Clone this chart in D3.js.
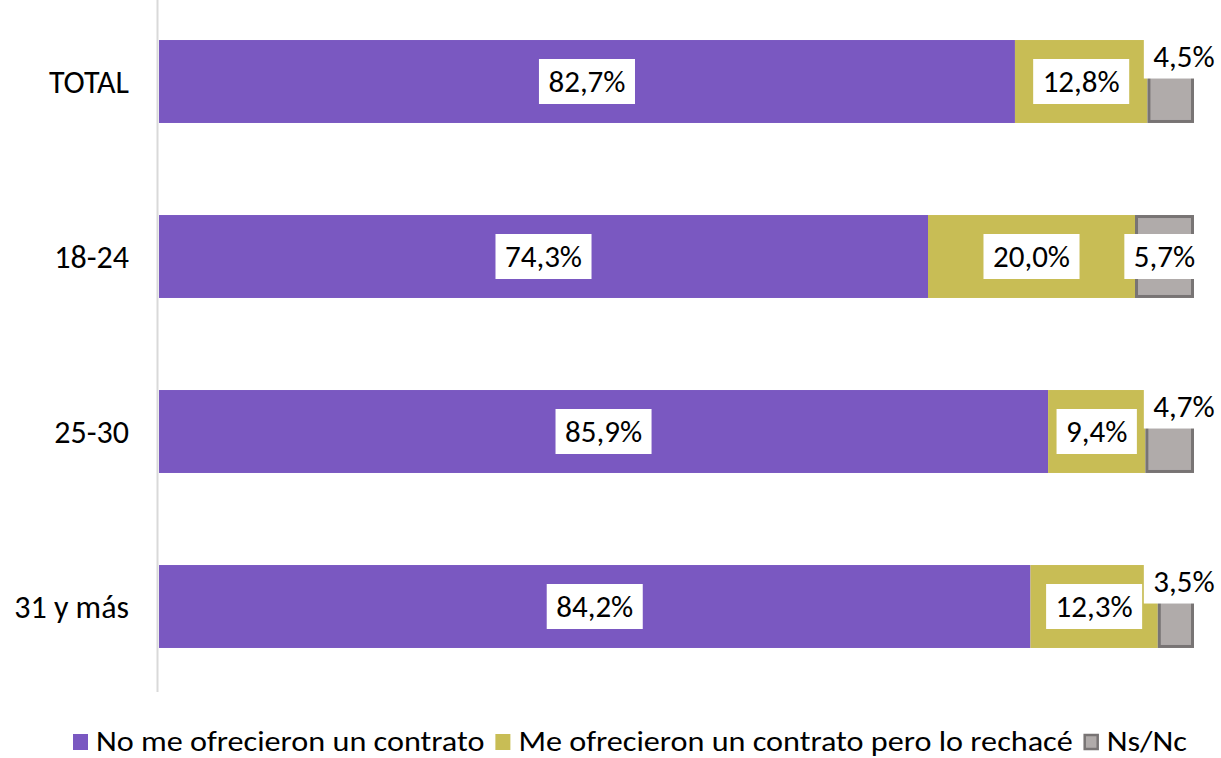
<!DOCTYPE html>
<html>
<head>
<meta charset="utf-8">
<script src="https://cdn.jsdelivr.net/npm/d3@7"></script>
<style>
  body { margin: 0; background: #fff; }
  svg { font-family: Carlito, Calibri, Lato, sans-serif; }
</style>
</head>
<body>
<svg id="chart" width="1221" height="758"></svg>
<script>
// chart data
var categories = ["TOTAL", "18-24", "25-30", "31 y más"];
var seriesNames = ["No me ofrecieron un contrato", "Me ofrecieron un contrato pero lo rechacé", "Ns/Nc"];
var noContrato = [82.7, 74.3, 85.9, 84.2];
var rechazado = [12.8, 20.0, 9.4, 12.3];
var nsnc = [4.5, 5.7, 4.7, 3.5];
var colors = ["#7a58c1", "#c8bd55", "#b0abaa"];

var svg = d3.select("#chart");
var x = d3.scaleLinear().domain([0, 100]).range([159, 1194]);
var y = d3.scaleBand()
    .domain(categories)
    .range([-6, 694])
    .paddingInner(0.526)
    .paddingOuter(0.263);

// vertical axis line
svg.append("line")
    .attr("x1", 157.5).attr("x2", 157.5)
    .attr("y1", 0).attr("y2", 692)
    .attr("stroke", "#d9d9d9")
    .attr("stroke-width", 2);

var rows = categories.map(function (c, i) {
    return { cat: c, vals: [noContrato[i], rechazado[i], nsnc[i]] };
});

var g = svg.append("g");
rows.forEach(function (r) {
    var start = 0;
    r.vals.forEach(function (v, k) {
        var x0 = x(start), x1 = x(start + v);
        var rect = g.append("rect")
            .attr("y", y(r.cat))
            .attr("height", y.bandwidth())
            .attr("fill", colors[k]);
        if (k == 2) {
            rect.attr("x", x0 + 1.5).attr("width", x1 - x0 - 3)
                .attr("y", y(r.cat) + 1.5).attr("height", y.bandwidth() - 3)
                .attr("stroke", "#787474").attr("stroke-width", 3);
        } else {
            rect.attr("x", x0).attr("width", x1 - x0);
        }
        r["x" + k] = [x0, x1];
        start += v;
    });
});

// data labels with white boxes
function label(txt, cx, cy) {
    var lg = svg.append("g");
    var box = lg.append("rect").attr("fill", "#fff");
    var t = lg.append("text")
        .attr("x", cx).attr("y", cy)
        .attr("text-anchor", "middle")
        .attr("dy", "0.35em")
        .attr("font-size", 31)
        .attr("fill", "#000")
        .text(txt);
    var w = t.node().getComputedTextLength() + 19;
    box.attr("x", cx - w / 2).attr("y", cy - 22.5).attr("width", w).attr("height", 45);
}
var fmt = function (v) { return v.toFixed(1).replace(".", ",") + "%"; };

rows.forEach(function (r) {
    var cy = y(r.cat) + y.bandwidth() / 2;
    label(fmt(r.vals[0]), (r.x0[0] + r.x0[1]) / 2, cy);
    label(fmt(r.vals[1]), (r.x1[0] + r.x1[1]) / 2, cy);
    if (r.vals[2] >= 5) {
        label(fmt(r.vals[2]), (r.x2[0] + r.x2[1]) / 2, cy);
    } else {
        // small segment: label pushed up and right of the bar end
        label(fmt(r.vals[2]), x.range()[1] - 10, y(r.cat) + 16);
    }
});

// category axis labels
svg.append("g").selectAll("text")
    .data(categories)
    .join("text")
    .attr("x", 129)
    .attr("y", function (d) { return y(d) + y.bandwidth() / 2; })
    .attr("dy", "0.35em")
    .attr("text-anchor", "end")
    .attr("font-size", 32)
    .attr("fill", "#000")
    .text(function (d) { return d; });

// legend, laid out left to right (text a bit condensed vertically like the original)
var lg = svg.append("g");
var lx = 73;
var sx = 1.15;
seriesNames.forEach(function (s, k) {
    var sw = lg.append("rect")
        .attr("x", lx).attr("y", 734)
        .attr("width", 15).attr("height", 16)
        .attr("fill", colors[k]);
    if (k == 2) sw.attr("stroke", "#787474").attr("stroke-width", 2.5)
        .attr("x", lx + 1).attr("y", 735).attr("width", 13).attr("height", 14);
    var t = lg.append("text")
        .attr("transform", "translate(" + (lx + 23) + ",741) scale(" + sx + ",1)")
        .attr("dy", "0.35em")
        .attr("font-size", 28)
        .attr("fill", "#000")
        .text(s);
    lx += 23 + t.node().getComputedTextLength() * sx + 11;
});
</script>
</body>
</html>
